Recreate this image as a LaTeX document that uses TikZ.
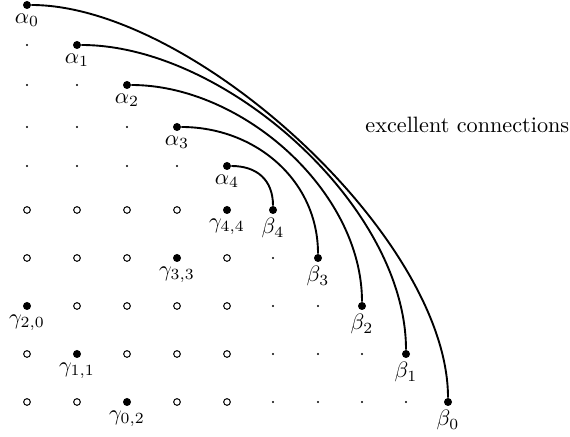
\documentclass[tikz,border=0pt]{standalone}
\begin{document}
\begin{tikzpicture}[x=0.45pt,y=-0.45pt,
  fdot/.style={circle,fill=black,inner sep=0pt,minimum size=3.6pt},
  odot/.style={circle,draw=black,line width=0.45pt,inner sep=0pt,minimum size=3pt},
  sdot/.style={circle,fill=black,inner sep=0pt,minimum size=1pt},
  every label/.style={inner sep=1pt},
  label distance=0.6pt,
  conn/.style={line width=0.85pt}]
\useasboundingbox (0,0) rectangle (570,437);
% small dots
\foreach \x/\y [count=\i] in {27/45, 27/85,77/85, 27/127,77/127,127/127,
  27/166,77/166,127/166,177/166, 273/258, 273/306,318/306,
  273/354,318/354,362/354, 273/402,318/402,362/402,406/402}
  \node[sdot] (s\i) at (\x,\y) {};
% open circles
\foreach \x/\y [count=\i] in {27/210,77/210,127/210,177/210,
  27/258,77/258,127/258,227/258,
  77/306,127/306,177/306,227/306,
  27/354,127/354,177/354,227/354,
  27/402,77/402,177/402,227/402}
  \node[odot] (o\i) at (\x,\y) {};
% alpha nodes
\node[fdot,label=below:{$\alpha_0$}] (a0) at (27,5) {};
\node[fdot,label=below:{$\alpha_1$}] (a1) at (77,45) {};
\node[fdot,label=below:{$\alpha_2$}] (a2) at (127,85) {};
\node[fdot,label=below:{$\alpha_3$}] (a3) at (177,127) {};
\node[fdot,label=below:{$\alpha_4$}] (a4) at (227,166) {};
% beta nodes
\node[fdot,label=below:{$\beta_4$}] (b4) at (273,210) {};
\node[fdot,label=below:{$\beta_3$}] (b3) at (318,258) {};
\node[fdot,label=below:{$\beta_2$}] (b2) at (362,306) {};
\node[fdot,label=below:{$\beta_1$}] (b1) at (406,354) {};
\node[fdot,label=below:{$\beta_0$}] (b0) at (448,402) {};
% gamma nodes
\node[fdot,label=below:{$\gamma_{4,4}$}] (g44) at (227,210) {};
\node[fdot,label=below:{$\gamma_{3,3}$}] (g33) at (177,258) {};
\node[fdot,label=below:{$\gamma_{2,0}$}] (g20) at (27,306) {};
\node[fdot,label=below:{$\gamma_{1,1}$}] (g11) at (77,354) {};
\node[fdot,label=below:{$\gamma_{0,2}$}] (g02) at (127,402) {};
% connections
\draw[conn] (a0) .. controls +(165,0) and +(0,-165) .. (b0);
\draw[conn] (a1) .. controls +(148,0) and +(0,-148) .. (b1);
\draw[conn] (a2) .. controls +(115,0) and +(0,-115) .. (b2);
\draw[conn] (a3) .. controls +(78,0) and +(0,-78) .. (b3);
\draw[conn] (a4) .. controls +(30,0) and +(0,-30) .. (b4);
\node[anchor=base west,inner sep=0pt] (txt) at (365,133) {excellent connections};
\end{tikzpicture}
\end{document}
